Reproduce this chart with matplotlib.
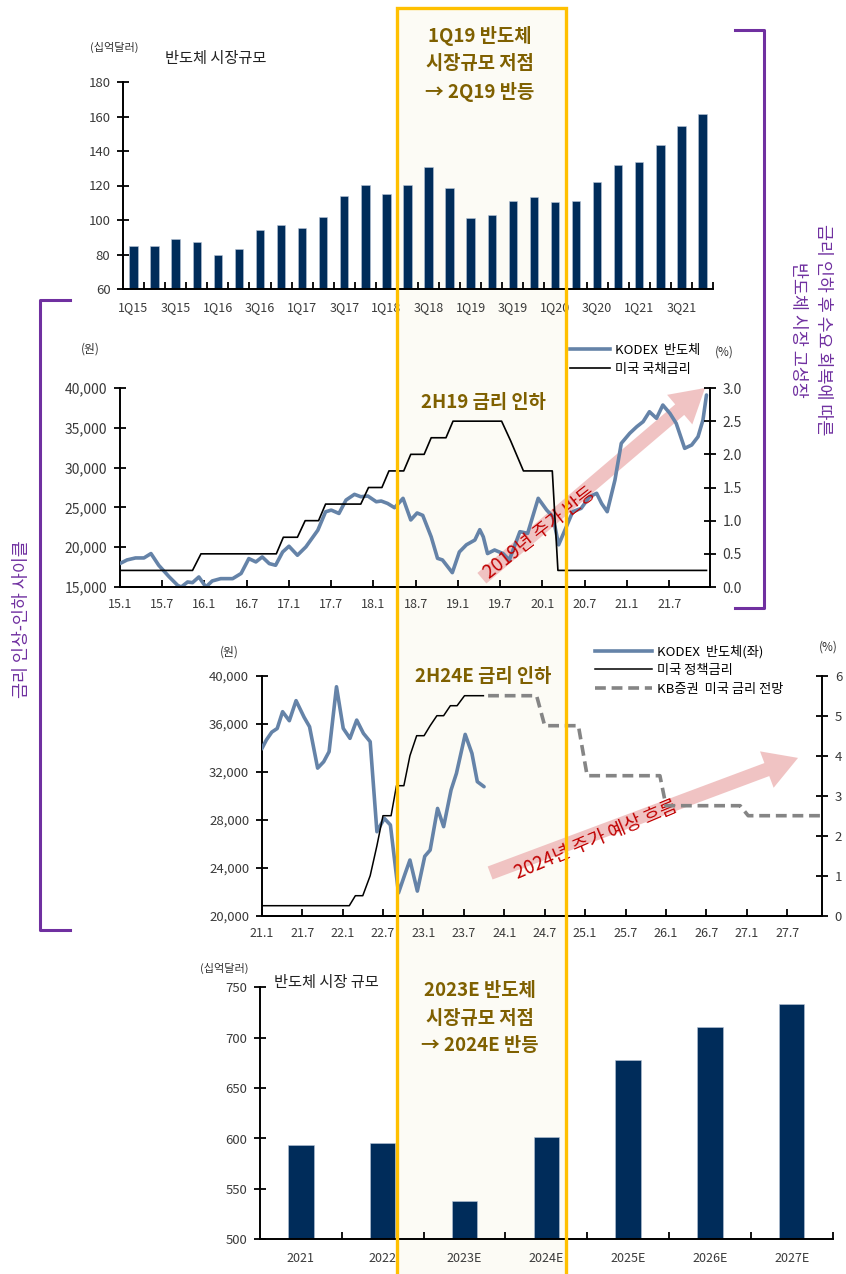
import matplotlib
matplotlib.use('Agg')
import matplotlib.pyplot as plt
from matplotlib.patches import Rectangle
from matplotlib.lines import Line2D
from matplotlib.ticker import FuncFormatter, FixedLocator
import numpy as np

plt.rcParams['font.family'] = ['Noto Sans CJK KR', 'DejaVu Sans']

# ---------------- DATA ----------------
# Chart 1: quarterly semiconductor market size (USD bn)
q_labels = ['1Q15', '2Q15', '3Q15', '4Q15', '1Q16', '2Q16', '3Q16', '4Q16',
            '1Q17', '2Q17', '3Q17', '4Q17', '1Q18', '2Q18', '3Q18', '4Q18',
            '1Q19', '2Q19', '3Q19', '4Q19', '1Q20', '2Q20', '3Q20', '4Q20',
            '1Q21', '2Q21', '3Q21', '4Q21']
q_market = [85.2, 85.1, 88.9, 87.1, 79.6, 83.3, 94.4, 97.1,
            95.4, 101.8, 113.9, 120.3, 114.9, 120.3, 130.6, 118.6,
            101.0, 103.0, 111.1, 113.1, 110.4, 111.0, 122.2, 131.6,
            133.4, 143.5, 154.6, 161.2]

# Chart 2: KODEX semiconductor (KRW) and US rate (%), months since 2015.1
kodex1_month = [0.0, 1.0, 2.2, 3.4, 4.4, 5.5, 7.0, 8.2, 8.7, 9.6, 10.3, 11.2,
                12.2, 13.1, 14.3, 16.0, 17.2, 18.3, 19.3, 20.2, 21.2, 22.1,
                23.1, 24.0, 25.2, 26.4, 28.1, 29.2, 30.0, 31.1, 32.1, 33.3,
                34.2, 35.2, 36.4, 37.1, 38.0, 39.0, 40.2, 41.3, 42.2, 43.0,
                44.2, 45.1, 45.8, 46.5, 47.2, 48.2, 49.2, 50.4, 51.1, 51.6,
                52.2, 53.2, 54.4, 55.3, 56.8, 57.9, 59.4, 60.6, 61.5, 62.3,
                63.4, 64.3, 65.5, 66.7, 67.7, 68.4, 69.2, 70.3, 71.2, 72.4,
                73.4, 74.3, 75.2, 76.2, 77.1, 78.1, 79.0, 80.2, 81.2, 82.1,
                82.8, 83.3]
kodex1_price = [17950, 18400, 18650, 18650, 19200, 17730, 16260, 15200, 15000,
                15630, 15550, 16260, 15000, 15760, 16050, 16050, 16700, 18570,
                18150, 18780, 17940, 17730, 19400, 20120, 18990, 20040, 22140,
                24450, 24660, 24240, 25920, 26640, 26340, 26430, 25710, 25800,
                25500, 24960, 26140, 23420, 24300, 24000, 21300, 18600, 18400,
                17600, 16800, 19400, 20300, 20900, 22200, 21300, 19200, 19650,
                19200, 18400, 21950, 21740, 26140, 24670, 23830, 20300, 22580,
                24460, 24880, 26350, 26770, 25500, 24460, 28440, 33050, 34310,
                35140, 35770, 37020, 36190, 37860, 36820, 35560, 32420, 32840,
                33880, 35980, 39120]
ust_month = [0, 10.3, 11.5, 22.2, 23.2, 25.2, 26.3, 28.2, 29.2, 34.2, 35.3,
             37.2, 38.2, 40.3, 41.3, 43.2, 44.2, 46.3, 47.3, 54.2, 55.5, 56.5,
             57.3, 61.4, 62.2, 83.3]
ust_rate = [0.25, 0.25, 0.5, 0.5, 0.75, 0.75, 1.0, 1.0, 1.25, 1.25, 1.5,
            1.5, 1.75, 1.75, 2.0, 2.0, 2.25, 2.25, 2.5, 2.5, 2.2, 1.95,
            1.75, 1.75, 0.25, 0.25]
x2_labels = ['15.1', '15.7', '16.1', '16.7', '17.1', '17.7', '18.1', '18.7',
             '19.1', '19.7', '20.1', '20.7', '21.1', '21.7']

# Chart 3: KODEX (KRW), policy rate and KB forecast (%), months since 2021.1
kodex2_month = [0.0, 0.7, 1.5, 2.3, 3.1, 4.1, 5.1, 6.3, 7.1, 8.3, 9.2, 10.0,
                11.1, 12.1, 13.1, 14.1, 15.1, 16.1, 17.1, 18.2, 19.1, 20.3,
                21.3, 22.0, 23.1, 24.2, 25.0, 26.1, 27.0, 28.1, 28.9, 30.2,
                31.2, 32.0, 33.0]
kodex2_price = [33900, 34650, 35300, 35600, 37000, 36250, 37920, 36530, 35750,
                32300, 32830, 33670, 39080, 35610, 34780, 36300, 35190, 34500,
                27000, 28110, 27560, 21900, 23530, 24640, 22050, 24950, 25470,
                28940, 27420, 30470, 31860, 35110, 33530, 31170, 30750]
policy_month = [0, 13.0, 13.9, 15.0, 16.1, 17.1, 18.0, 19.2, 20.0, 21.1, 22.0,
                23.0, 24.1, 25.0, 26.0, 27.0, 28.0, 29.0, 30.1, 32.9]
policy_rate = [0.25, 0.25, 0.5, 0.5, 1.0, 1.75, 2.5, 2.5, 3.25, 3.25, 4.0,
               4.5, 4.5, 4.75, 5.0, 5.0, 5.25, 5.25, 5.5, 5.5]
kb_month = [33.6, 40.8, 42.0, 47.0, 48.3, 59.1, 60.0, 71.0, 72.2, 83.2]
kb_rate = [5.5, 5.5, 4.75, 4.75, 3.5, 3.5, 2.75, 2.75, 2.5, 2.5]
x3_labels = ['21.1', '21.7', '22.1', '22.7', '23.1', '23.7', '24.1', '24.7',
             '25.1', '25.7', '26.1', '26.7', '27.1', '27.7']

# Chart 4: annual semiconductor market size (USD bn)
y_labels = ['2021', '2022', '2023E', '2024E', '2025E', '2026E', '2027E']
y_market = [593.5, 595.5, 538.3, 601.5, 677.9, 711.0, 733.1]

# ---------------- STYLE ----------------
NAVY = '#002c5a'
BLUE = '#6583a8'
GOLD = '#7f6000'
RED = '#c00000'
PURPLE = '#7030a0'
YELLOW = '#ffc000'
PINK = '#efbdbd'
TICKC = '#3a3a3a'

W, H = 846, 1274
fig = plt.figure(figsize=(W / 100, H / 100), dpi=100)
fig.patch.set_facecolor('white')


def fxp(x):
    return x / W


def fyp(y):
    return 1 - y / H


def add_ax(x0, y0, x1, y1):
    return fig.add_axes([x0 / W, 1 - y1 / H, (x1 - x0) / W, (y1 - y0) / H])


def style(ax, keep_right=False):
    ax.set_facecolor('none')
    ax.spines['top'].set_visible(False)
    if not keep_right:
        ax.spines['right'].set_visible(False)
    for s in ax.spines.values():
        s.set_linewidth(1.4)
        s.set_color('black')


# highlight band (fill behind, border on top)
fig.add_artist(Rectangle((fxp(397), fyp(1290)), (566 - 397) / W, (1290 - 8) / H,
                         transform=fig.transFigure, facecolor='#fcfbf5',
                         edgecolor='none', zorder=-5))
fig.add_artist(Rectangle((fxp(397), fyp(1290)), (566 - 397) / W, (1290 - 8) / H,
                         transform=fig.transFigure, facecolor='none',
                         edgecolor=YELLOW, lw=2.4, zorder=20))

# ---------------- CHART 1 ----------------
ax1 = add_ax(123, 82, 713, 289)
style(ax1)
x1 = np.arange(len(q_labels))
ax1.bar(x1, q_market, width=0.4, color=NAVY, edgecolor='#b8c4d6', linewidth=0.4)
ax1.set_xlim(-0.5, len(q_labels) - 0.5)
ax1.set_ylim(60, 180)
ax1.set_yticks(np.arange(60, 181, 20))
ax1.set_xticks(x1[::2])
ax1.set_xticklabels(q_labels[::2])
ax1.set_xticks(np.arange(0.5, len(q_labels), 1), minor=True)
ax1.tick_params(axis='x', which='major', length=0, pad=9, labelsize=9, labelcolor=TICKC)
ax1.tick_params(axis='x', which='minor', direction='in', length=5, width=1.3)
ax1.tick_params(axis='y', direction='inout', length=8, width=1.3, pad=5,
                labelsize=9.5, labelcolor=TICKC)
fig.text(fxp(90), fyp(47), '(십억달러)', fontsize=8, color='#333333', va='center')
fig.text(fxp(165), fyp(58), '반도체 시장규모', fontsize=11, color='#222222', va='center')
fig.text(fxp(480), fyp(64), '1Q19 반도체\n시장규모 저점\n→ 2Q19 반등', ha='center',
         va='center', fontsize=13.5, fontweight='bold', color=GOLD, linespacing=1.55,
         zorder=25)

# ---------------- CHART 2 ----------------
ax2 = add_ax(120, 388, 710, 587)
style(ax2)
ax2.set_xlim(0, 83.8)
ax2.set_ylim(15000, 40000)
ax2.set_yticks(np.arange(15000, 40001, 5000))
ax2.yaxis.set_major_formatter(FuncFormatter(lambda v, p: f'{v:,.0f}'))
ax2.set_xticks(np.arange(0, 84, 6))
ax2.set_xticklabels(x2_labels)
ax2.tick_params(axis='x', direction='in', length=5, width=1.3, pad=8, labelsize=9,
                labelcolor=TICKC)
ax2.tick_params(axis='y', direction='inout', length=8, width=1.3, pad=5,
                labelsize=10, labelcolor=TICKC)
l_kodex1, = ax2.plot(kodex1_month, kodex1_price, color=BLUE, lw=2.6, zorder=3,
                     solid_joinstyle='round', solid_capstyle='round')
ax2.annotate('', xy=(83.1, 40000), xytext=(51.4, 16100), xycoords='data',
             annotation_clip=False, zorder=2,
             arrowprops=dict(arrowstyle='simple,head_length=2.4,head_width=2.8,tail_width=1.0',
                             mutation_scale=10, fc=PINK, ec='none', alpha=0.9,
                             shrinkA=0, shrinkB=0))
ax2.text(59.6, 21800, '2019년 주가 반등', rotation=38, ha='center', va='center',
         fontsize=13.5, color=RED, zorder=6)
ax2r = ax2.twinx()
style(ax2r, keep_right=True)
ax2r.spines['left'].set_visible(False)
ax2r.set_ylim(0, 3.0)
ax2r.set_yticks(np.arange(0, 3.01, 0.5))
ax2r.yaxis.set_major_formatter(FuncFormatter(lambda v, p: f'{v:.1f}'))
ax2r.tick_params(axis='y', direction='inout', length=8, width=1.3, pad=5,
                 labelsize=10, labelcolor=TICKC)
l_ust, = ax2r.plot(ust_month, ust_rate, color='black', lw=1.2, zorder=3)
ax2r.text(483 / W, 0, '', transform=fig.transFigure)
fig.text(fxp(483), fyp(402), '2H19 금리 인하', ha='center', va='center', fontsize=13.5,
         fontweight='bold', color=GOLD, zorder=25)
fig.text(fxp(90), fyp(349), '(원)', fontsize=8.5, color='#333333', ha='center', va='center')
fig.text(fxp(724), fyp(352), '(%)', fontsize=8.5, color='#333333', ha='center', va='center')
ax2r.legend([Line2D([], [], color=BLUE, lw=2.6), Line2D([], [], color='black', lw=1.2)],
            ['KODEX  반도체', '미국 국채금리'], loc='upper left',
            bbox_to_anchor=(fxp(570), fyp(344)), bbox_transform=fig.transFigure,
            frameon=False, fontsize=9.5, handlelength=3.0, handletextpad=0.4,
            labelspacing=0.45, borderpad=0, borderaxespad=0)

# ---------------- CHART 3 ----------------
ax3 = add_ax(261.7, 675.7, 822.3, 915.7)
style(ax3)
ax3.set_xlim(0, 83.2)
ax3.set_ylim(20000, 40000)
ax3.set_yticks(np.arange(20000, 40001, 4000))
ax3.yaxis.set_major_formatter(FuncFormatter(lambda v, p: f'{v:,.0f}'))
ax3.set_xticks(np.arange(0, 84, 6))
ax3.set_xticklabels(x3_labels)
ax3.tick_params(axis='x', direction='in', length=5, width=1.3, pad=8, labelsize=9,
                labelcolor=TICKC)
ax3.tick_params(axis='y', direction='inout', length=8, width=1.3, pad=5,
                labelsize=9.5, labelcolor=TICKC)
ax3.plot(kodex2_month, kodex2_price, color=BLUE, lw=2.6, zorder=3,
         solid_joinstyle='round', solid_capstyle='round')
ax3.annotate('', xy=(79.6, 33150), xytext=(33.9, 23560), xycoords='data',
             annotation_clip=False, zorder=2,
             arrowprops=dict(arrowstyle='simple,head_length=2.4,head_width=2.8,tail_width=1.0',
                             mutation_scale=10, fc=PINK, ec='none', alpha=0.9,
                             shrinkA=0, shrinkB=0))
ax3.text(49.6, 26300, '2024년 주가 예상 흐름', rotation=23, ha='center', va='center',
         fontsize=13.5, color=RED, zorder=6)
ax3r = ax3.twinx()
style(ax3r, keep_right=True)
ax3r.spines['left'].set_visible(False)
ax3r.set_ylim(0, 6)
ax3r.set_yticks(np.arange(0, 7, 1))
ax3r.tick_params(axis='y', direction='inout', length=8, width=1.3, pad=5,
                 labelsize=9.5, labelcolor=TICKC)
ax3r.plot(policy_month, policy_rate, color='black', lw=1.1, zorder=3)
ax3r.plot(kb_month, kb_rate, color='#858585', lw=2.6, ls=(0, (3, 1.6)), zorder=3)
fig.text(fxp(483), fyp(677), '2H24E 금리 인하', ha='center', va='center', fontsize=13.5,
         fontweight='bold', color=GOLD, zorder=25)
fig.text(fxp(229), fyp(652), '(원)', fontsize=8.5, color='#333333', ha='center', va='center')
fig.text(fxp(828), fyp(647), '(%)', fontsize=8.5, color='#333333', ha='center', va='center')
ax3r.legend([Line2D([], [], color=BLUE, lw=2.6), Line2D([], [], color='black', lw=1.1),
             Line2D([], [], color='#858585', lw=2.6, ls=(0, (3, 1.6)))],
            ['KODEX  반도체(좌)', '미국 정책금리', 'KB증권  미국 금리 전망'], loc='upper left',
            bbox_to_anchor=(fxp(595), fyp(645)), bbox_transform=fig.transFigure,
            frameon=False, fontsize=9.5, handlelength=4.3, handletextpad=0.4,
            labelspacing=0.42, borderpad=0, borderaxespad=0)

# ---------------- CHART 4 ----------------
ax4 = add_ax(260, 987.3, 832.7, 1239.3)
style(ax4)
x4 = np.arange(len(y_labels))
ax4.bar(x4, y_market, width=0.31, color=NAVY, edgecolor='#b8c4d6', linewidth=0.4)
ax4.set_xlim(-0.5, len(y_labels) - 0.5)
ax4.set_ylim(500, 750)
ax4.set_yticks(np.arange(500, 751, 50))
ax4.set_xticks(x4)
ax4.set_xticklabels(y_labels)
ax4.set_xticks(np.arange(0.5, len(y_labels), 1), minor=True)
ax4.tick_params(axis='x', which='major', length=0, pad=9, labelsize=9, labelcolor=TICKC)
ax4.tick_params(axis='x', which='minor', direction='in', length=5, width=1.3)
ax4.tick_params(axis='y', direction='inout', length=8, width=1.3, pad=5,
                labelsize=9.5, labelcolor=TICKC)
fig.text(fxp(200), fyp(968), '(십억달러)', fontsize=8, color='#333333', va='center')
fig.text(fxp(274), fyp(982), '반도체 시장 규모', fontsize=11, color='#222222', va='center')
fig.text(fxp(480), fyp(1018), '2023E 반도체\n시장규모 저점\n→ 2024E 반등', ha='center',
         va='center', fontsize=13.5, fontweight='bold', color=GOLD, linespacing=1.55,
         zorder=25)

# ---------------- BRACKETS & SIDE TEXT ----------------
fig.add_artist(Line2D([fxp(735), fxp(764), fxp(764), fxp(735)],
                      [fyp(30), fyp(30), fyp(608), fyp(608)],
                      transform=fig.transFigure, color=PURPLE, lw=2.2,
                      solid_joinstyle='round'))
fig.add_artist(Line2D([fxp(70), fxp(40), fxp(40), fxp(70)],
                      [fyp(300), fyp(300), fyp(930), fyp(930)],
                      transform=fig.transFigure, color=PURPLE, lw=2.2,
                      solid_joinstyle='round'))
fig.text(fxp(810), fyp(330), '금리 인하 후 수요 회복에 따른\n반도체 시장 고성장', rotation=270,
         ha='center', va='center', multialignment='center', fontsize=12.5,
         color=PURPLE, linespacing=1.5)
fig.text(fxp(22), fyp(619), '금리 인상-인하 사이클', rotation=90, ha='center', va='center',
         fontsize=12.5, color=PURPLE)

fig.savefig('out.png', dpi=100, facecolor='white')
